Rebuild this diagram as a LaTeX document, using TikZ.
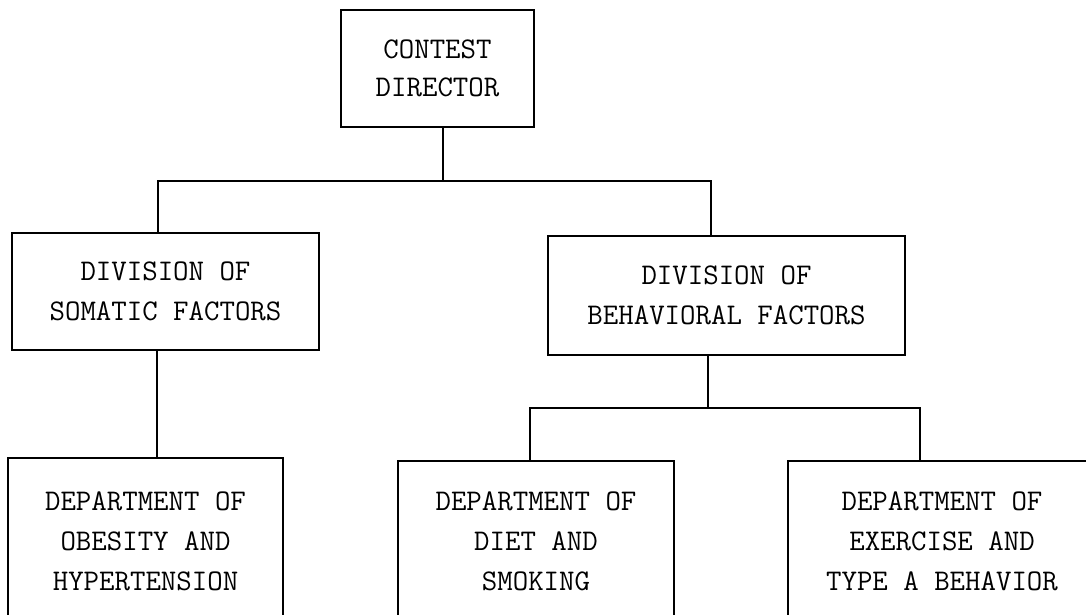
\documentclass[tikz,border=0pt]{standalone}
\usepackage{fontspec}
\begin{document}
\begin{tikzpicture}[x=1pt,y=-1pt,
  box/.style={draw=black, line width=1.3pt, inner sep=0pt, align=center,
    font=\ttfamily\fontsize{30}{40}\selectfont},
  link/.style={draw=black, line width=1.3pt}]
\clip (0,0) rectangle (1086,614);
\fill[white] (0,0) rectangle (1086,614);
% boxes
\node[box, minimum width=193pt, minimum height=117pt, font=\ttfamily\fontsize{30}{38}\selectfont]
  (contest) at (437.5,68.5) {CONTEST\\DIRECTOR};
\node[box, minimum width=307pt, minimum height=117pt] (divL) at (165.5,291.5) {DIVISION OF\\SOMATIC FACTORS};
\node[box, minimum width=357pt, minimum height=119pt] (divR) at (726.5,295.5) {DIVISION OF\\BEHAVIORAL FACTORS};
\node[box, minimum width=275pt, minimum height=166pt] (deptL) at (145.5,541) {DEPARTMENT OF\\OBESITY AND\\HYPERTENSION};
\node[box, minimum width=276pt, minimum height=160pt] (deptM) at (536,541) {DEPARTMENT OF\\DIET AND\\SMOKING};
\node[box, minimum width=308pt, minimum height=160pt] (deptR) at (942,541) {DEPARTMENT OF\\EXERCISE AND\\TYPE A BEHAVIOR};
% junctions
\coordinate (j1) at (443,181);
\coordinate (j1L) at (158,181);
\coordinate (j1R) at (711,181);
\coordinate (j2) at (708,408);
\coordinate (j2L) at (530,408);
\coordinate (j2R) at (920,408);
\coordinate (jL) at (157,0);
% connectors
\draw[link] (contest.south -| j1) -- (j1);
\draw[link] (divL.north -| j1L) |- (j1R) -- (divR.north -| j1R);
\draw[link] (divL.south -| jL) -- (deptL.north -| jL);
\draw[link] (divR.south -| j2) -- (j2);
\draw[link] (deptM.north -| j2L) |- (j2R) -- (deptR.north -| j2R);
\end{tikzpicture}
\end{document}
